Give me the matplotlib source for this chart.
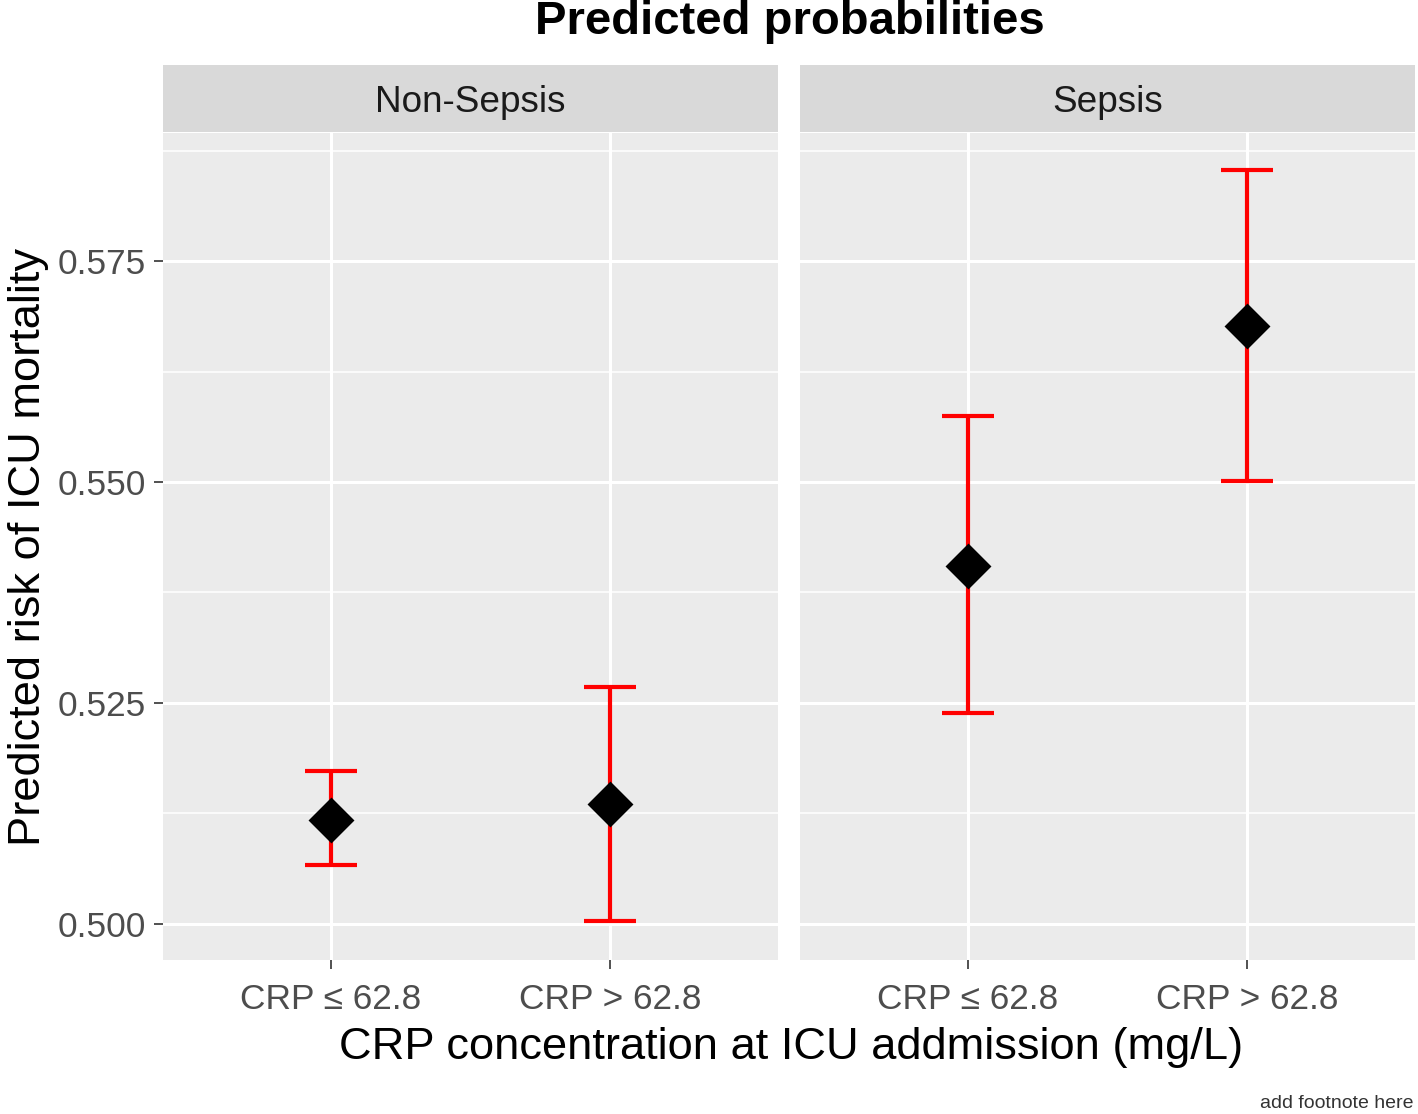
import numpy as np
import matplotlib.pyplot as plt
from matplotlib.ticker import MultipleLocator

plt.rcParams['font.family'] = ['Liberation Sans', 'DejaVu Sans']

# data
groups = ["Non-Sepsis", "Sepsis"]
categories = ["CRP \u2264 62.8", "CRP > 62.8"]
prob_nonsepsis = [0.5118, 0.5135]
lower_nonsepsis = [0.5066, 0.5003]
upper_nonsepsis = [0.5173, 0.5268]
prob_sepsis = [0.5405, 0.5676]
lower_sepsis = [0.5239, 0.5501]
upper_sepsis = [0.5575, 0.5853]

panels = [
    (prob_nonsepsis, lower_nonsepsis, upper_nonsepsis),
    (prob_sepsis, lower_sepsis, upper_sepsis),
]

W, H = 1418, 1114
fig = plt.figure(figsize=(W / 200, H / 200), dpi=200)

panel_left = [163, 800]
panel_w = 615
top, bottom = 133, 960
strip_top = 65

x = np.arange(1, len(categories) + 1)

for i, (p, lo, hi) in enumerate(panels):
    ax = fig.add_axes([panel_left[i] / W, 1 - bottom / H, panel_w / W, (bottom - top) / H])
    ax.set_facecolor("#EBEBEB")
    for s in ax.spines.values():
        s.set_visible(False)
    ax.set_xlim(0.4, 2.6)
    ax.set_ylim(0.4959, 0.5895)
    ax.yaxis.set_major_locator(MultipleLocator(0.025))
    ax.yaxis.set_minor_locator(MultipleLocator(0.0125))
    ax.grid(which="major", color="white", lw=1.1)
    ax.grid(which="minor", axis="y", color="white", lw=0.55)
    ax.set_axisbelow(True)
    ax.set_xticks(x)
    ax.set_xticklabels(categories)
    ax.tick_params(axis="both", which="major", length=3.2, width=0.6, color="#333333",
                   labelsize=12.7, labelcolor="#4D4D4D", pad=3)
    ax.tick_params(axis="x", pad=5)
    ax.tick_params(axis="y", which="minor", length=0)
    if i == 0:
        ax.set_yticklabels(["%.3f" % v for v in ax.get_yticks()])
        ax.set_ylabel("Predicted risk of ICU mortality", fontsize=16.3, labelpad=3)
    else:
        ax.tick_params(axis="y", which="both", left=False, labelleft=False)

    p = np.array(p)
    yerr = [p - np.array(lo), np.array(hi) - p]
    ax.errorbar(x, p, yerr=yerr, fmt="none", ecolor="red", elinewidth=1.5,
                capsize=9.4, capthick=1.5, zorder=3)
    ax.plot(x, p, "D", color="black", markersize=10.5, zorder=4)

    # facet strip
    sax = fig.add_axes([panel_left[i] / W, 1 - (top - 1) / H, panel_w / W, (top - 1 - strip_top) / H])
    sax.set_facecolor("#D9D9D9")
    sax.set_xticks([])
    sax.set_yticks([])
    for s in sax.spines.values():
        s.set_visible(False)
    sax.text(0.5, 0.44, groups[i], ha="center", va="center", fontsize=13.3, color="#1A1A1A")

fig.text(790 / W, 1 - 22 / H, "Predicted probabilities", ha="center", va="center",
         fontsize=17, fontweight="bold")
fig.text(791 / W, 1 - 1048 / H, "CRP concentration at ICU addmission (mg/L)",
         ha="center", va="center", fontsize=16.3)
fig.text(1413 / W, 1 - 1103 / H, "add footnote here", ha="right", va="center",
         fontsize=7, color="#333333")

fig.savefig("out.png", dpi=200)
